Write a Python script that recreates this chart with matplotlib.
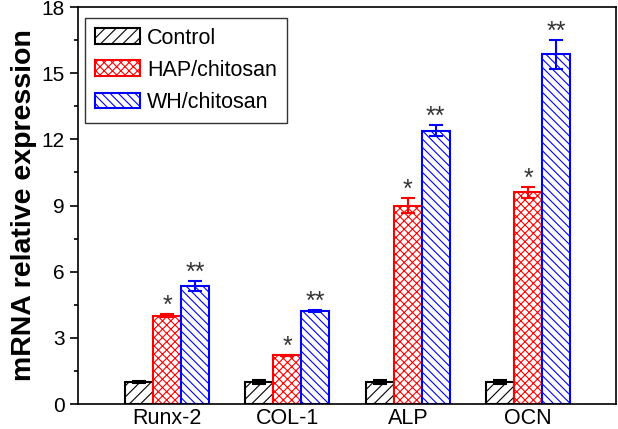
import matplotlib
matplotlib.use("Agg")
import matplotlib.pyplot as plt
import numpy as np

plt.rcParams['font.family'] = ['Liberation Sans', 'DejaVu Sans']
plt.rcParams['hatch.linewidth'] = 0.8

categories = ["Runx-2", "COL-1", "ALP", "OCN"]
series = ["Control", "HAP/chitosan", "WH/chitosan"]
control = [1.0, 1.0, 1.0, 1.0]
control_err = [0.05, 0.1, 0.08, 0.08]
hap = [4.0, 2.2, 9.0, 9.6]
hap_err = [0.07, 0.03, 0.35, 0.25]
wh = [5.35, 4.22, 12.4, 15.85]
wh_err = [0.22, 0.06, 0.25, 0.65]
hap_sig = ["*", "*", "*", "*"]
wh_sig = ["**", "**", "**", "**"]

colors = ["black", "#ff0000", "#0000ff"]
hatches = ["///", "xxxx", "\\\\\\\\"]

W, H = 618, 429
fig = plt.figure(figsize=(W/100, H/100), dpi=100)
ax_l, ax_r, ax_t, ax_b = 78, 616, 7, 404
ax = fig.add_axes([ax_l/W, 1-ax_b/H, (ax_r-ax_l)/W, (ax_b-ax_t)/H])

x = np.arange(len(categories))
w = 0.233
data = [control, hap, wh]
errs = [control_err, hap_err, wh_err]
for i, (vals, er) in enumerate(zip(data, errs)):
    pos = x + (i - 1) * w
    ax.bar(pos, vals, width=w, facecolor="white", edgecolor=colors[i],
           hatch=hatches[i], linewidth=1.5, label=series[i], zorder=2)
    ax.errorbar(pos, vals, yerr=er, fmt="none", ecolor=colors[i],
                elinewidth=1.5, capsize=5, capthick=1.5, zorder=3)

for i in range(len(categories)):
    ax.text(x[i], hap[i] + hap_err[i] + 0.05, hap_sig[i], ha="center", va="baseline",
            fontsize=18, color="#333333")
    ax.text(x[i] + w, wh[i] + wh_err[i] + 0.05, wh_sig[i], ha="center", va="baseline",
            fontsize=18, color="#333333")

ax.set_xlim(-0.74, 3.73)
ax.set_ylim(0, 18)
ax.set_yticks(np.arange(0, 19, 3))
ax.set_yticks(np.arange(0, 18.1, 1.5), minor=True)
ax.set_xticks(x)
ax.set_xticklabels(categories, fontsize=15.5)
ax.tick_params(axis="x", length=0, pad=3)
ax.tick_params(axis="y", which="major", direction="out", length=6, width=1.2, labelsize=15)
ax.tick_params(axis="y", which="minor", direction="out", length=3, width=1.2)
for s in ax.spines.values():
    s.set_linewidth(1.2)
ax.set_ylabel("mRNA relative expression", fontsize=20.5, fontweight="bold", labelpad=3)

anchor = ((85 - ax_l) / (ax_r - ax_l), 1 - (18 - ax_t) / (ax_b - ax_t))
leg = ax.legend(loc="upper left", bbox_to_anchor=anchor, fontsize=15.5, frameon=True,
                fancybox=False, edgecolor="black", handlelength=2.1, handleheight=0.75,
                borderaxespad=0.0, labelspacing=0.52, handletextpad=0.33,
                borderpad=0.45)
leg.get_frame().set_linewidth(1.0)

fig.savefig("out.png", dpi=100)
